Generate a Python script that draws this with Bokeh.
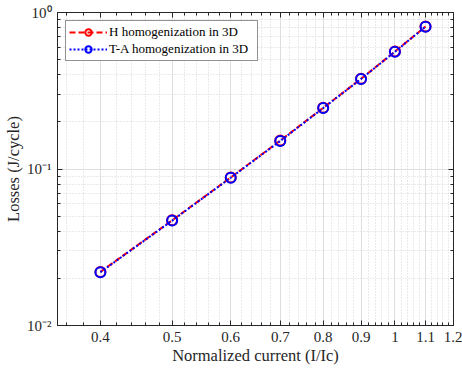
from bokeh.plotting import figure
from bokeh.models import (FixedTicker, LogAxis, Legend, LegendItem,
                          CustomJSTickFormatter, Range1d)
from bokeh.embed import file_html
from bokeh.resources import INLINE

# ---- data ----
current = [0.4, 0.5, 0.6, 0.7, 0.8, 0.9, 1.0, 1.1]
losses_h = [0.0220, 0.0470, 0.0883, 0.152, 0.246, 0.377, 0.563, 0.814]
losses_ta = [0.0219, 0.0468, 0.0880, 0.151, 0.245, 0.376, 0.561, 0.812]

x_ticks = [0.4, 0.5, 0.6, 0.7, 0.8, 0.9, 1.0, 1.1, 1.2]
x_tick_labels = ["0.4", "0.5", "0.6", "0.7", "0.8", "0.9", "1", "1.1", "1.2"]
x_minor = [0.36, 0.38, 0.42, 0.44, 0.46, 0.48, 0.52, 0.54, 0.56, 0.58,
           0.62, 0.64, 0.66, 0.68, 0.72, 0.74, 0.76, 0.78, 0.82, 0.84,
           0.86, 0.88, 0.92, 0.94, 0.96, 0.98, 1.02, 1.04, 1.06, 1.08,
           1.12, 1.14, 1.16, 1.18]
y_ticks = [0.01, 0.1, 1.0]
y_tick_labels = ["10\u207b\u00b2", "10\u207b\u00b9", "10\u2070"]
y_minor = [0.02, 0.03, 0.04, 0.05, 0.06, 0.07, 0.08, 0.09,
           0.2, 0.3, 0.4, 0.5, 0.6, 0.7, 0.8, 0.9]

FONT = "Liberation Serif"
DARK = "#262626"

p = figure(width=462, height=371, x_axis_type="log", y_axis_type="log",
           x_range=Range1d(0.35, 1.2), y_range=Range1d(0.01, 1.0),
           output_backend="svg", toolbar_location=None,
           min_border_left=57, min_border_right=9, min_border_top=12,
           min_border_bottom=46)
p.background_fill_color = "white"
p.border_fill_color = "white"
p.outline_line_color = DARK
p.outline_line_width = 1

xt = FixedTicker(ticks=x_ticks, minor_ticks=x_minor)
yt = FixedTicker(ticks=y_ticks, minor_ticks=y_minor)

for ax, ticks, tk, labels in ((p.xaxis[0], x_ticks, xt, x_tick_labels),
                              (p.yaxis[0], y_ticks, yt, y_tick_labels)):
    ax.ticker = tk
    ax.major_label_overrides = {t: l for t, l in zip(ticks, labels)}
    ax.axis_line_color = DARK
    ax.major_tick_line_color = DARK
    ax.minor_tick_line_color = DARK
    ax.major_tick_in = 5
    ax.major_tick_out = 0
    ax.minor_tick_in = 3
    ax.minor_tick_out = 0
    ax.major_label_text_font = FONT
    ax.major_label_text_font_size = "15px"
    ax.major_label_text_color = DARK
    ax.axis_label_text_font = FONT
    ax.axis_label_text_font_size = "16.5px"
    ax.axis_label_text_font_style = "normal"
    ax.axis_label_text_color = DARK

p.xaxis[0].axis_label = "Normalized current (I/Ic)"
p.yaxis[0].axis_label = "Losses (J/cycle)"
p.xaxis[0].major_label_standoff = 6
p.yaxis[0].major_label_standoff = 6
p.xaxis[0].axis_label_standoff = 1
p.yaxis[0].axis_label_standoff = 1

# mirrored tick axes (top, right)
blank = CustomJSTickFormatter(code="return ''")
for side, tk in (("above", xt), ("right", yt)):
    ax = LogAxis(ticker=tk, formatter=blank)
    ax.axis_line_color = DARK
    ax.major_tick_line_color = DARK
    ax.minor_tick_line_color = DARK
    ax.major_tick_in = 5
    ax.major_tick_out = 0
    ax.minor_tick_in = 3
    ax.minor_tick_out = 0
    ax.major_label_standoff = 0
    ax.major_label_text_font_size = "1px"
    p.add_layout(ax, side)

for g in (p.xgrid[0], p.ygrid[0]):
    g.grid_line_color = "#dedede"
    g.grid_line_width = 1
    g.minor_grid_line_color = "#d4d4d4"
    g.minor_grid_line_dash = "1 2"
    g.minor_grid_line_width = 1
p.xgrid[0].ticker = xt
p.ygrid[0].ticker = yt

r1 = p.line(current, losses_h, line_color="#ff0000", line_width=2, line_dash="6 3")
s1 = p.scatter(current, losses_h, marker="circle", size=10, line_color="#ff0000",
               line_width=2, fill_color=None)
r2 = p.line(current, losses_ta, line_color="#0000ff", line_width=2, line_dash="2 2")
s2 = p.scatter(current, losses_ta, marker="circle", size=10, line_color="#0000ff",
               line_width=2, fill_color=None)

legend = Legend(items=[LegendItem(label="H homogenization in 3D", renderers=[r1, s1]),
                       LegendItem(label="T-A homogenization in 3D", renderers=[r2, s2])],
                location="top_left")
legend.label_text_font = FONT
legend.label_text_font_size = "13px"
legend.label_text_color = "#000000"
legend.glyph_width = 38
legend.glyph_height = 16
legend.label_height = 16
legend.label_width = 145
legend.spacing = 1
legend.padding = 3
legend.margin = 8
legend.label_standoff = 2
legend.border_line_color = DARK
legend.border_line_width = 1
legend.background_fill_alpha = 1.0
p.add_layout(legend, "center")

open("out.html", "w").write(file_html(p, INLINE))
